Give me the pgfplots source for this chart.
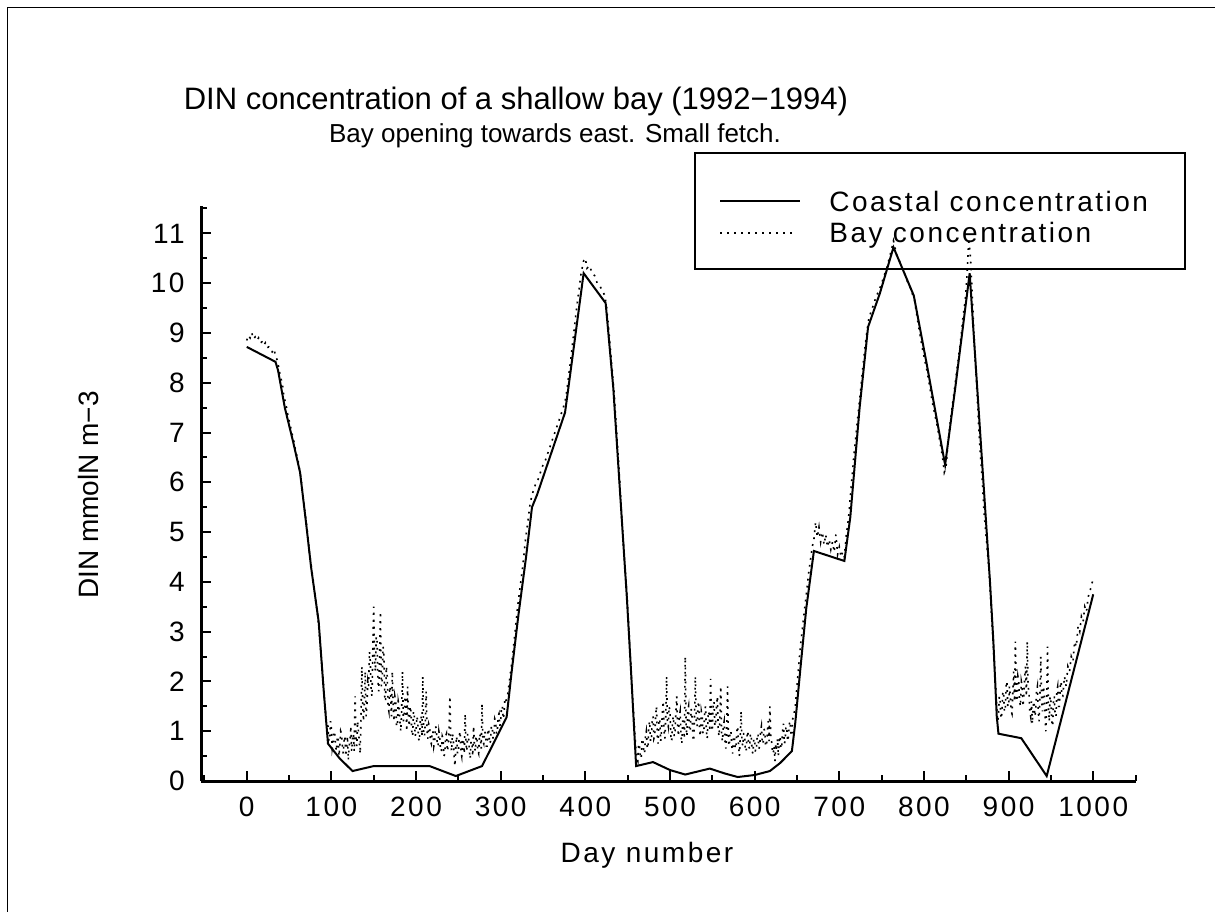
\documentclass[border=0pt]{standalone}
\usepackage{fontspec}
\setmainfont{Liberation Sans}
\newfontfamily\spaced{Liberation Sans}[LetterSpace=9]
\usepackage{pgfplots}
\pgfplotsset{compat=1.18}
\tikzset{baystyle/.style={line width=0.8pt, dash pattern=on 0.9pt off 2.6pt}}
\begin{document}
\begin{tikzpicture}
\useasboundingbox (0,0) rectangle (607.5pt,455.5pt);
\begin{axis}[
  at={(100.5pt,65pt)}, anchor=south west, scale only axis,
  width=467.5pt, height=287.5pt,
  xmin=-54, xmax=1050.5, ymin=0, ymax=11.55,
  axis lines*=left, axis line style={line width=1.5pt},
  xtick={0,100,...,1000}, ytick={0,1,...,11},
  minor xtick={-50,50,...,1050}, minor ytick={0.5,1.5,...,11.5},
  tick align=inside, major tick length=5pt, minor tick length=3pt,
  tick style={black, line width=1pt},
  /pgf/number format/assume math mode=true, /pgf/number format/1000 sep={},
  tick label style={font=\spaced\fontsize{14pt}{16pt}\selectfont},
  xticklabel style={anchor=north, inner sep=0pt, yshift=-8pt},
  yticklabel style={anchor=east, inner sep=0pt, xshift=-8pt},
]
% Bay concentration (dotted)
\addplot[baystyle, black] coordinates {
(0,8.85)(2,8.95)(4,8.9)(6,9.0)(8,8.88)(10,8.92)(12,8.85)(14,8.9)(16,8.8)(18,8.82)(20,8.75)(22,8.8)(24,8.7)(26,8.72)(28,8.65)(30,8.62)(32,8.68)(34,8.55)(36,8.45)
(38,8.3)(40,8.1)(42,8.0)(44,7.7)(46,7.6)(48,7.4)(50,7.25)(52,7.1)(54,6.95)(56,6.8)(58,6.6)(60,6.5)(62,6.3)(64,6.1)(66,5.8)(68,5.5)(70,5.25)(72,4.95)(74,4.6)(76,4.35)(78,4.1)(80,3.85)(82,3.55)(84,3.3)(86,2.9)(88,2.5)(90,2.1)(92,1.6)(94,1.2)
(96,1.1)(97,0.8)(98,0.9)(99,1.2)(100,1.05)(101,0.65)(102,0.75)(103,1.0)(104,0.95)(105,0.7)(106,0.6)(107,0.9)(108,0.85)(109,0.5)(110,0.7)(111,1.0)(112,0.95)(113,0.7)(114,0.55)(115,0.8)(116,0.9)(117,0.5)(118,0.65)(119,0.9)(120,0.42)(121,0.7)(122,0.8)(123,1.1)(124,0.6)(125,0.85)(126,0.95)(127,0.6)(128,1.7)(129,0.9)(130,0.7)(131,1.2)(132,1.0)(133,0.8)(134,0.55)(135,1.3)(136,2.3)(137,1.5)(138,1.2)(139,1.6)(140,2.2)(141,1.3)(142,1.5)(143,2.0)(144,1.9)(145,2.6)(146,2.4)(147,1.8)(148,1.7)(149,2.7)(150,3.5)(151,2.5)(152,2.2)(153,2.9)(154,2.8)(155,2.0)(156,1.8)(157,2.5)(158,3.4)(159,1.9)(160,2.0)(161,2.7)(162,2.6)(163,1.7)(164,1.6)(165,2.3)(166,2.1)(167,1.5)(168,1.4)(169,1.9)(170,1.8)(171,1.3)(172,2.2)(173,1.5)(174,1.2)(175,1.7)(176,1.6)(177,1.1)(178,1.1)(179,1.6)(180,1.5)(181,1.2)(182,1.0)(183,1.4)(184,2.2)(185,1.2)(186,1.3)(187,1.7)(188,1.6)(189,1.0)(190,1.9)(191,1.3)(192,1.1)(193,1.5)(194,1.4)(195,1.0)(196,0.9)(197,1.4)(198,1.3)(199,0.9)
(200,1.0)(201,1.3)(202,1.2)(203,0.85)(204,0.8)(205,1.2)(206,1.3)(207,0.9)(208,2.1)(209,1.0)(210,0.9)(211,1.2)(212,1.8)(213,1.0)(214,0.85)(215,1.15)(216,1.1)(217,0.8)(218,0.75)(219,1.0)(220,1.0)(221,0.7)(222,0.8)(223,1.1)(224,1.05)(225,0.75)(226,0.7)(227,1.0)(228,0.9)(229,0.6)(230,0.6)(231,0.9)(232,0.85)(233,0.5)(234,0.55)(235,0.9)(236,0.95)(237,0.6)(238,0.7)(239,1.0)(240,1.7)(241,0.8)(242,0.6)(243,0.95)(244,0.85)(245,0.5)(246,0.3)(247,0.7)(248,0.9)(249,0.55)(250,0.6)(251,0.9)(252,1.0)(253,0.6)(254,0.5)(255,0.85)(256,0.8)(257,0.55)(258,1.35)(259,0.75)(260,0.6)(261,0.95)(262,0.9)(263,0.6)(264,0.45)(265,0.8)(266,0.75)(267,0.5)(268,1.1)(269,0.7)(270,0.6)(271,0.9)(272,0.85)(273,0.6)(274,0.55)(275,0.95)(276,0.9)(277,0.65)(278,1.55)(279,0.8)(280,0.75)(281,1.0)(282,0.95)(283,0.7)(284,0.7)(285,1.05)(286,1.0)(287,0.75)(288,0.8)(289,1.1)(290,1.1)(291,0.85)(292,0.9)(293,1.25)(294,1.2)(295,0.95)(296,1.0)(297,1.3)(298,1.35)(299,1.1)(300,1.2)(301,1.5)(302,1.5)(303,1.25)(304,1.35)(305,1.65)(306,1.6)
(308,1.7)(311,2.1)(314,2.5)(317,3.0)(320,3.5)(323,3.9)(326,4.3)(329,4.8)(332,5.2)(335,5.6)(338,5.8)(341,5.95)(344,6.05)(347,6.2)(350,6.35)(353,6.45)(356,6.6)(359,6.75)(362,6.9)(365,7.05)(368,7.2)(371,7.35)(374,7.5)(377,7.7)(380,8.1)(383,8.5)(386,8.95)(389,9.4)(392,9.8)(395,10.2)(398,10.45)(400,10.5)(402,10.3)(405,10.35)(408,10.2)(411,10.15)(414,10.0)(417,9.95)(420,9.85)(423,9.75)(425,9.55)(428,9.0)(431,8.4)(434,7.8)(437,7.0)(440,6.2)(443,5.3)(446,4.5)(449,3.8)(452,2.9)(455,1.9)(458,1.1)
(460,0.6)(461,0.45)(462,0.4)(463,0.75)(464,0.7)(465,0.5)(466,0.45)(467,0.85)(468,0.8)(469,0.6)(470,0.55)(471,0.9)(472,1.0)(473,0.7)(474,0.65)(475,1.1)(476,1.2)(477,0.8)(478,0.8)(479,1.2)(480,1.3)(481,0.85)(482,0.9)(483,1.3)(484,1.5)(485,0.9)(486,0.75)(487,1.25)(488,1.2)(489,0.8)(490,1.0)(491,1.4)(492,1.6)(493,1.0)(494,0.85)(495,1.3)(496,2.1)(497,1.2)(498,1.1)(499,1.5)(500,1.4)(501,0.9)(502,0.8)(503,1.2)(504,1.3)(505,0.9)(506,1.0)(507,1.4)(508,1.7)(509,1.1)(510,0.9)(511,1.3)(512,1.4)(513,0.9)(514,0.75)(515,1.2)(516,1.2)(517,0.85)(518,2.5)(519,1.1)(520,0.9)(521,1.4)(522,1.5)(523,1.0)(524,1.0)(525,1.45)(526,1.3)(527,0.9)(528,0.8)(529,1.3)(530,2.1)(531,1.2)(532,1.1)(533,1.5)(534,1.6)(535,1.0)(536,0.9)(537,1.4)(538,1.3)(539,0.95)(540,1.0)(541,1.4)(542,1.5)(543,1.0)(544,0.85)(545,1.3)(546,1.4)(547,1.0)(548,2.05)(549,1.2)(550,1.0)(551,1.5)(552,1.6)(553,1.1)(554,1.2)(555,1.5)(556,1.7)(557,1.0)(558,0.9)(559,1.3)
(560,1.9)(561,0.9)(562,0.8)(563,1.1)(564,1.2)(565,0.8)(566,0.65)(567,1.0)(568,1.9)(569,0.8)(570,0.7)(571,1.0)(572,1.0)(573,0.7)(574,0.55)(575,0.9)(576,0.9)(577,0.65)(578,0.7)(579,1.0)(580,1.1)(581,0.7)(582,0.5)(583,0.9)(584,1.4)(585,0.8)(586,0.7)(587,0.95)(588,0.95)(589,0.6)(590,0.6)(591,0.9)(592,1.0)(593,0.7)(594,0.65)(595,0.95)(596,0.9)(597,0.6)(598,0.55)(599,0.85)(600,0.8)(601,0.6)(602,0.6)(603,0.9)(604,0.95)(605,0.65)(606,0.7)(607,1.0)(608,1.1)(609,0.75)(610,0.75)(611,1.05)(612,1.0)(613,0.7)(614,0.7)(615,1.0)(616,1.2)(617,0.8)(618,1.5)(619,0.9)(620,0.8)(621,0.6)(622,0.55)(623,0.7)(624,0.4)(625,0.75)(626,0.6)(627,0.85)(628,0.5)(629,0.8)(630,0.9)(631,0.65)(632,0.7)(633,1.0)(634,1.15)(635,0.75)(636,0.8)(637,1.1)(638,1.05)(639,0.8)(640,0.9)(641,1.15)(642,1.2)(643,0.9)(644,0.95)(645,1.25)(646,1.3)
(648,1.5)(650,1.9)(652,2.3)(654,2.7)(656,3.0)(658,3.3)(660,3.6)(662,3.9)(664,4.2)(666,4.45)(668,4.7)
(670,4.85)(672,5.2)(674,4.9)(676,5.1)(678,4.8)(680,5.0)(682,4.75)(684,4.95)(686,4.7)(688,4.85)(690,4.65)(692,4.8)(694,4.6)(696,4.95)(698,4.55)(700,4.7)(702,4.5)(704,4.6)(706,4.5)
(708,4.9)(711,5.3)(714,5.9)(717,6.5)(720,7.0)(723,7.5)(726,8.0)(729,8.5)(732,8.95)(735,9.3)(738,9.45)(741,9.6)(744,9.75)(747,9.85)(750,10.0)(753,10.15)(756,10.3)(759,10.5)(762,10.7)(764,10.85)(766,10.7)(768,10.55)(771,10.45)(774,10.3)(777,10.2)(780,10.05)(783,9.95)(786,9.8)(789,9.65)(792,9.3)(795,9.0)(798,8.7)(801,8.45)(804,8.2)(807,7.9)(810,7.6)(813,7.35)(816,7.1)(819,6.8)(822,6.5)(824,6.2)(826,6.3)(828,6.7)(831,7.2)(834,7.6)(837,8.0)(840,8.4)(843,8.8)(846,9.3)(849,9.7)(851,10.2)(853,10.9)(855,10.5)(857,9.8)(859,9.0)(861,8.3)(863,7.7)(865,7.0)(867,6.5)(869,6.0)(871,5.4)(873,5.0)(875,4.6)(877,4.2)(879,3.6)(881,3.0)(883,2.4)(885,1.8)
(886,1.5)(887,1.2)(888,1.3)(889,1.7)(890,1.6)(891,1.25)(892,1.35)(893,1.75)(894,1.8)(895,1.4)(896,1.4)(897,1.9)(898,2.0)(899,1.5)(900,1.5)(901,1.9)(902,1.7)(903,1.4)(904,1.35)(905,1.8)(906,2.2)(907,1.6)(908,2.8)(909,1.7)(910,1.6)(911,2.1)(912,2.0)(913,1.6)(914,1.5)(915,2.0)(916,1.9)(917,1.5)(918,1.7)(919,2.1)(920,2.3)(921,1.7)(922,2.8)(923,1.9)(924,1.8)(925,1.4)(926,1.3)(927,1.6)(928,1.15)(929,1.5)(930,1.6)(931,1.3)(932,1.4)(933,1.8)(934,1.9)(935,1.4)(936,1.2)(937,1.7)(938,2.5)(939,1.6)(940,1.4)(941,1.9)(942,1.8)(943,1.3)(944,1.0)(945,1.6)(946,2.7)(947,1.5)(948,1.2)(949,1.7)(950,1.6)(951,1.2)(952,1.1)(953,1.6)(954,1.7)(955,1.3)(956,1.3)(957,1.8)(958,1.9)(959,1.5)(960,1.5)(961,1.9)(962,2.0)(963,1.7)(964,1.7)
(966,2.1)(968,1.9)(970,2.3)(972,2.2)(974,2.5)(976,2.4)(978,2.8)(980,2.7)(982,3.1)(984,3.0)(986,3.3)(988,3.2)(990,3.5)(992,3.4)(994,3.7)(996,3.8)(998,3.95)(1000,4.05)
};
% Coastal concentration (solid)
\addplot[black, line width=1pt] coordinates {
(0,8.72)(34,8.42)(37,8.25)(45,7.5)(55,6.8)(63,6.2)(70,5.2)(76,4.3)(85,3.2)(91,1.8)(96,0.75)(110,0.45)(125,0.2)(150,0.3)(216,0.3)(247,0.1)(278,0.3)(307,1.28)(313,2.2)(321,3.34)(330,4.5)(337,5.5)(343,5.75)(358,6.5)(376,7.4)(380,7.9)(398,10.2)(424,9.6)(433,7.9)(449,3.7)(454,2.2)(460,0.3)(480,0.38)(500,0.22)(518,0.13)(547,0.25)(565,0.15)(580,0.08)(600,0.12)(618,0.2)(630,0.36)(644,0.6)(648,1.17)(654,2.25)(661,3.47)(670,4.62)(706,4.42)(713,5.3)(724,7.5)(734,9.12)(748,9.8)(764,10.72)(788,9.75)(803,8.4)(825,6.35)(837,7.9)(854,10.2)(878,4.0)(882,2.8)(886,1.3)(888,0.95)(915,0.86)(945,0.1)(1000,3.75)
};
\end{axis}
\begin{scope}[x=0.5pt, y=-0.5pt, yshift=455.5pt]
\draw[line width=0.7pt] (7.5,920) -- (7.5,7.5) -- (1220,7.5);
\node[anchor=base, inner sep=0pt] at (516,110) {\fontsize{15.5pt}{18pt}\selectfont DIN concentration of a shallow bay (1992−1994)};
\node[anchor=base, inner sep=0pt] at (555,143) {\fontsize{13pt}{15pt}\selectfont Bay opening towards east. Small fetch.};
\draw[line width=0.6pt] (695,153) rectangle (1185,269);
\draw[black, line width=1pt] (720,201) -- (800,201);
\draw[baystyle, black] (720,233) -- (795,233);
\node[anchor=base west, inner sep=0pt] at (829,212) {\spaced\fontsize{14pt}{16pt}\selectfont Coastal concentration};
\node[anchor=base west, inner sep=0pt] at (829,243) {\spaced\fontsize{14pt}{16pt}\selectfont Bay concentration};
\node[anchor=base, inner sep=0pt] at (647,862) {\spaced\fontsize{14pt}{16pt}\selectfont Day number};
\node[rotate=90, anchor=base, inner sep=0pt] at (98,495) {\fontsize{14pt}{16pt}\selectfont DIN mmolN m−3};
\end{scope}
\end{tikzpicture}
\end{document}
